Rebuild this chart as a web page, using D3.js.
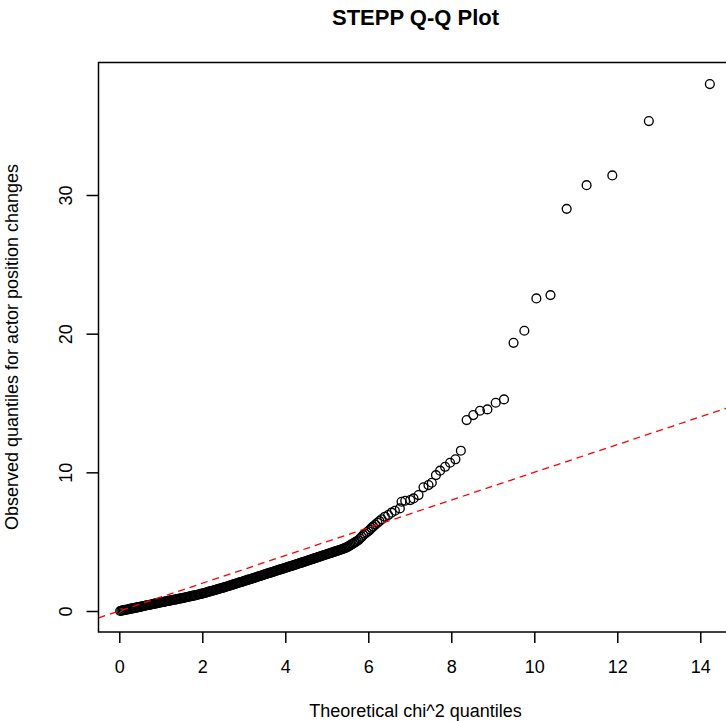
<!DOCTYPE html>
<html>
<head>
<meta charset="utf-8">
<script src="https://cdn.jsdelivr.net/npm/d3@7"></script>
<style>
  html, body { margin: 0; padding: 0; background: #fff; }
  svg { display: block; }
  text { font-family: "Liberation Sans", Arial, Helvetica, sans-serif; fill: #000; }
</style>
</head>
<body>
<svg id="chart" width="726" height="721"></svg>
<script>
// Theoretical chi^2 quantiles (x) and observed quantiles (y), sorted ascending.
// Rows of the two arrays line up one to one.
const theoretical = [
  0.02, 0.05, 0.08, 0.11, 0.14, 0.17, 0.20, 0.23, 0.26, 0.29, 0.32, 0.35, 0.38, 0.41, 0.44, 0.47,
  0.50, 0.53, 0.56, 0.59, 0.62, 0.65, 0.68, 0.71, 0.74, 0.77, 0.80, 0.83, 0.86, 0.89, 0.92, 0.95, 0.98,
  1.01, 1.04, 1.07, 1.10, 1.13, 1.16, 1.19, 1.22, 1.25, 1.28, 1.31, 1.34, 1.37, 1.40, 1.43, 1.46, 1.49,
  1.52, 1.55, 1.58, 1.61, 1.64, 1.67, 1.70, 1.73, 1.76, 1.79, 1.82, 1.85, 1.88, 1.91, 1.94, 1.97,
  2.00, 2.03, 2.06, 2.09, 2.12, 2.15, 2.18, 2.21, 2.24, 2.27, 2.30, 2.33, 2.36, 2.39, 2.42, 2.45, 2.48,
  2.51, 2.54, 2.57, 2.60, 2.63, 2.66, 2.69, 2.72, 2.75, 2.78, 2.81, 2.84, 2.87, 2.90, 2.93, 2.96, 2.99,
  3.02, 3.05, 3.08, 3.11, 3.14, 3.17, 3.20, 3.23, 3.26, 3.29, 3.32, 3.35, 3.38, 3.41, 3.44, 3.47, 3.50,
  3.53, 3.56, 3.59, 3.62, 3.65, 3.68, 3.71, 3.74, 3.77, 3.80, 3.83, 3.86, 3.89, 3.92, 3.95, 3.98, 4.01,
  4.04, 4.07, 4.10, 4.13, 4.16, 4.19, 4.22, 4.25, 4.28, 4.31, 4.34, 4.37, 4.40, 4.43, 4.46, 4.49,
  4.52, 4.55, 4.58, 4.61, 4.64, 4.67, 4.70, 4.73, 4.76, 4.79, 4.82, 4.85, 4.88, 4.91,
  4.94, 4.97, 5.00, 5.03, 5.06, 5.09, 5.12, 5.15, 5.18, 5.21, 5.24, 5.27, 5.30,
  5.33, 5.36, 5.39, 5.42, 5.45, 5.48, 5.51, 5.54, 5.57, 5.60, 5.63, 5.66, 5.69, 5.72,
  5.76, 5.80, 5.84, 5.88, 5.92, 5.96, 6.00, 6.04, 6.08, 6.12, 6.17, 6.22, 6.27, 6.32,
  6.40, 6.48, 6.56, 6.64, 6.76, 6.80, 6.89, 7.01, 7.09, 7.21,
  7.33, 7.45, 7.53, 7.63, 7.73, 7.85, 7.97, 8.10, 8.23, 8.37,
  8.53, 8.69, 8.87, 9.07, 9.27, 9.50, 9.76, 10.05, 10.39, 10.78, 11.26, 11.88, 12.76, 14.23
];
const observed = [
  0.00, 0.02, 0.04, 0.06, 0.08, 0.09, 0.11, 0.13, 0.15, 0.17, 0.19, 0.21, 0.23, 0.24, 0.26, 0.28,
  0.30, 0.32, 0.34, 0.36, 0.38, 0.40, 0.42, 0.43, 0.45, 0.47, 0.49, 0.51, 0.53, 0.55, 0.57, 0.59, 0.61,
  0.63, 0.64, 0.66, 0.68, 0.70, 0.72, 0.73, 0.75, 0.77, 0.79, 0.81, 0.82, 0.84, 0.86, 0.88, 0.90, 0.91,
  0.93, 0.95, 0.97, 0.99, 1.01, 1.03, 1.05, 1.07, 1.09, 1.11, 1.13, 1.15, 1.17, 1.19, 1.21, 1.23,
  1.25, 1.28, 1.30, 1.33, 1.35, 1.38, 1.41, 1.43, 1.46, 1.48, 1.51, 1.53, 1.56, 1.59, 1.61, 1.64, 1.66,
  1.69, 1.72, 1.75, 1.77, 1.80, 1.83, 1.86, 1.89, 1.92, 1.94, 1.97, 2.00, 2.03, 2.06, 2.08, 2.11, 2.14,
  2.17, 2.20, 2.23, 2.26, 2.28, 2.31, 2.34, 2.37, 2.40, 2.43, 2.46, 2.49, 2.52, 2.54, 2.57, 2.60, 2.63,
  2.66, 2.69, 2.72, 2.75, 2.77, 2.80, 2.83, 2.86, 2.89, 2.92, 2.95, 2.98, 3.00, 3.03, 3.06, 3.09, 3.12,
  3.15, 3.18, 3.21, 3.24, 3.26, 3.29, 3.32, 3.35, 3.38, 3.41, 3.44, 3.47, 3.49, 3.52, 3.55, 3.58,
  3.61, 3.64, 3.67, 3.70, 3.73, 3.76, 3.79, 3.82, 3.85, 3.88, 3.91, 3.94, 3.97, 4.00,
  4.03, 4.06, 4.09, 4.12, 4.15, 4.18, 4.21, 4.24, 4.27, 4.30, 4.33, 4.36, 4.39,
  4.42, 4.45, 4.49, 4.52, 4.55, 4.59, 4.64, 4.70, 4.75, 4.81, 4.86, 4.92, 4.97, 5.03,
  5.10, 5.23, 5.35, 5.48, 5.57, 5.66, 5.75, 5.87, 6.00, 6.10, 6.23, 6.36, 6.48, 6.61,
  6.80, 6.92, 7.09, 7.23, 7.40, 7.88, 7.95, 8.00, 8.12, 8.36,
  8.92, 9.08, 9.25, 9.80, 10.12, 10.40, 10.69, 10.94, 11.56, 13.77,
  14.13, 14.44, 14.54, 15.02, 15.26, 19.34, 20.21, 22.54, 22.78, 29.00, 30.71, 31.41, 35.33, 38.00
];
const xTicks = [0, 2, 4, 6, 8, 10, 12, 14];
const yTicks = [0, 10, 20, 30];
const titleText = "STEPP Q-Q Plot";
const xLabel = "Theoretical chi^2 quantiles";
const yLabel = "Observed quantiles for actor position changes";
// reference line y = intercept + slope * x
const refIntercept = 0;
const refSlope = 1;

const svg = d3.select("#chart");

// plotting region (box) in pixels
const box = { left: 98.5, right: 733, top: 62.5, bottom: 632 };

const x = d3.scaleLinear().domain([0, 14]).range([119.3, 700.3]);
const y = d3.scaleLinear().domain([0, 30]).range([611, 195]);

const xMin = x.invert(box.left), xMax = x.invert(box.right);

svg.append("defs").append("clipPath").attr("id", "plotclip")
  .append("rect")
  .attr("x", box.left).attr("y", box.top)
  .attr("width", box.right - box.left).attr("height", box.bottom - box.top);

const plot = svg.append("g").attr("clip-path", "url(#plotclip)");

// points (open circles)
plot.append("g")
  .selectAll("circle")
  .data(d3.zip(theoretical, observed))
  .join("circle")
  .attr("cx", d => x(d[0]))
  .attr("cy", d => y(d[1]))
  .attr("r", 4.4)
  .attr("fill", "none")
  .attr("stroke", "#000")
  .attr("stroke-width", 1.35);

// dashed reference line
plot.append("line")
  .attr("x1", x(xMin)).attr("y1", y(refIntercept + refSlope * xMin))
  .attr("x2", x(xMax)).attr("y2", y(refIntercept + refSlope * xMax))
  .attr("stroke", "#ff0000")
  .attr("stroke-width", 1.3)
  .attr("stroke-dasharray", "7,5");

// box
svg.append("rect")
  .attr("x", box.left).attr("y", box.top)
  .attr("width", box.right - box.left).attr("height", box.bottom - box.top)
  .attr("fill", "none").attr("stroke", "#000").attr("stroke-width", 1.5);

// x axis
const xAxis = d3.axisBottom(x).tickValues(xTicks).tickSize(11).tickPadding(6)
  .tickFormat(d3.format("d"));
const gx = svg.append("g").attr("transform", `translate(0,${box.bottom})`).call(xAxis);
gx.select(".domain").remove();
gx.selectAll(".tick line").attr("stroke", "#000").attr("stroke-width", 1.5);
gx.selectAll(".tick text")
  .attr("font-size", 18)
  .attr("font-family", "Liberation Sans, Arial, sans-serif")
  .attr("fill", "#000")
  .attr("dy", null)
  .attr("y", 673 - box.bottom);

// y axis (labels parallel to axis)
const yAxis = d3.axisLeft(y).tickValues(yTicks).tickSize(12).tickFormat(d3.format("d"));
const gy = svg.append("g").attr("transform", `translate(${box.left},0)`).call(yAxis);
gy.select(".domain").remove();
gy.selectAll(".tick line").attr("stroke", "#000").attr("stroke-width", 1.5);
gy.selectAll(".tick text")
  .attr("font-size", 18)
  .attr("font-family", "Liberation Sans, Arial, sans-serif")
  .attr("fill", "#000")
  .attr("x", null).attr("dy", null)
  .attr("text-anchor", "middle")
  .attr("transform", `translate(${71.7 - box.left},0) rotate(-90)`);

// title
svg.append("text")
  .attr("x", 415.5).attr("y", 25)
  .attr("text-anchor", "middle")
  .attr("font-size", 22).attr("font-weight", "bold")
  .text(titleText);

// axis labels
svg.append("text")
  .attr("x", 415.5).attr("y", 717)
  .attr("text-anchor", "middle")
  .attr("font-size", 18)
  .text(xLabel);

svg.append("text")
  .attr("transform", "translate(17.5,347) rotate(-90)")
  .attr("text-anchor", "middle")
  .attr("font-size", 18)
  .text(yLabel);
</script>
</body>
</html>
